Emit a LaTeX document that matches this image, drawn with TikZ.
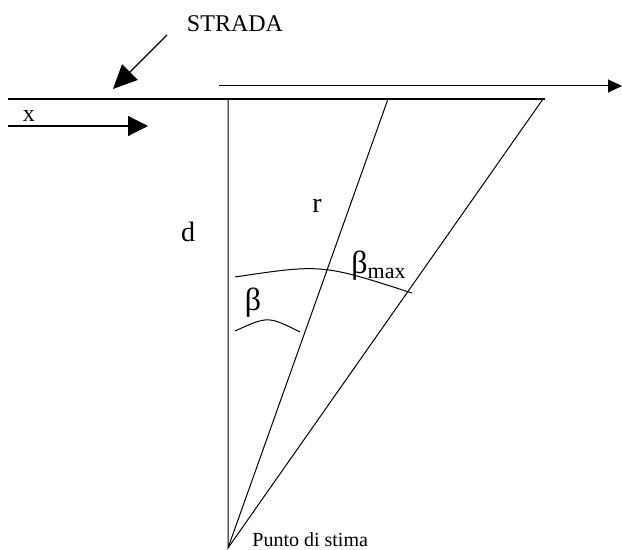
\documentclass[tikz,border=0pt]{standalone}
\usepackage{fontspec}
\setmainfont{Liberation Serif}
\usetikzlibrary{arrows.meta}
\begin{document}
\begin{tikzpicture}[x=0.5pt, y=-0.5pt, font=\fontsize{12}{14}\selectfont]
    \useasboundingbox (0, 0) rectangle (622, 550);
    % strada e punti
    \coordinate (roadL) at (8, 99);
    \coordinate (roadR) at (545, 99);
    \coordinate (O) at (228, 99);
    \coordinate (A) at (388, 99);
    \coordinate (B) at (543, 99);
    \coordinate (P) at (228, 548);
    \draw[line width=1pt] (roadL) -- (roadR);
    \draw[line width=0.5pt] (O) -- (P) -- (A);
    \draw[line width=0.5pt] (P) -- (B);
    % frecce
    \node (strada) at (235, 24) {STRADA};
    \coordinate (s1) at (167, 35);
    \coordinate (s2) at (113, 89);
    \draw[line width=0.6pt, -{Triangle[length=12pt, width=11pt]}] (s1) -- (s2);
    \coordinate (u1) at (219, 86);
    \coordinate (u2) at (622, 86);
    \draw[line width=0.5pt, -{Triangle[length=7pt, width=6.5pt]}] (u1) -- (u2);
    \coordinate (x1) at (8, 126);
    \coordinate (x2) at (148, 126);
    \draw[line width=0.6pt, -{Triangle[length=10pt, width=10pt]}] (x1) -- (x2);
    \node[font=\fontsize{12}{14}\selectfont] (xl) at (29, 116) {x};
    % angoli
    \coordinate (a1) at (235, 277);
    \coordinate (a2) at (412, 293);
    \draw[line width=0.5pt] (a1) .. controls (322, 264) .. (a2);
    \coordinate (b1) at (235, 331);
    \coordinate (b2) at (300, 332);
    \draw[line width=0.5pt] (b1) .. controls (268, 316) .. (b2);
    \node[font=\fontsize{14}{16}\selectfont] (dl) at (188, 232) {d};
    \node[font=\fontsize{14}{16}\selectfont] (rl) at (317, 206) {r};
    \node[font=\fontsize{16}{18}\selectfont] (beta) at (253, 303) {β};
    \node[anchor=west, inner sep=0pt] (betamax) at (351, 266) {\fontsize{16}{18}\selectfont β\raisebox{-0.3ex}{\fontsize{11}{12}\selectfont max}};
    \node[anchor=base west, inner sep=0pt, font=\fontsize{10}{12}\selectfont] (stima) at (252, 547) {Punto di stima};
\end{tikzpicture}
\end{document}
